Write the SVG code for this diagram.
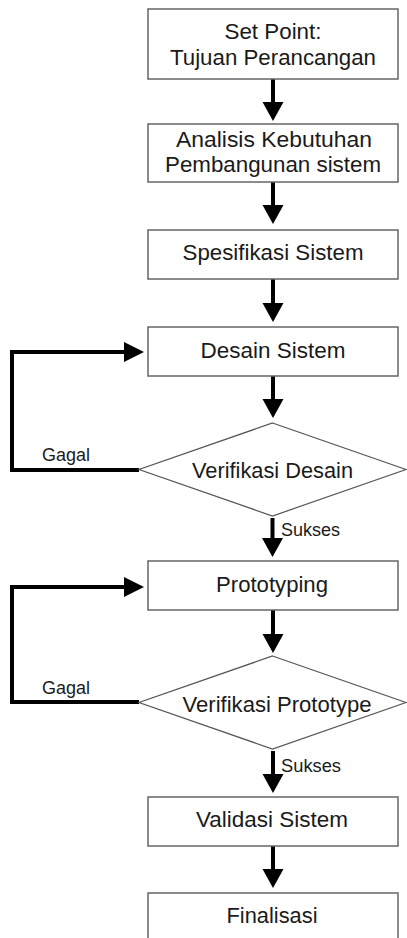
<svg xmlns="http://www.w3.org/2000/svg" width="407" height="938" viewBox="0 0 407 938">
<style>
.box{fill:#fff;stroke:#666;stroke-width:1.5}
.dia{fill:#fff;stroke:#555;stroke-width:1.2}
.t{font-family:"Liberation Sans",Arial,sans-serif;font-size:21.5px;fill:#1a1a1a;text-anchor:middle}
.s{font-family:"Liberation Sans",Arial,sans-serif;font-size:17.5px;fill:#1a1a1a}
.ln{fill:none;stroke:#000;stroke-width:4}
.hd{fill:#000}
</style>
<rect width="407" height="938" fill="#fff"/>
<g id="connectors">
<path class="ln" d="M273,79V104"/><polygon class="hd" points="262.5,102 283.5,102 273,121"/>
<path class="ln" d="M273,182V207"/><polygon class="hd" points="262.5,205 283.5,205 273,224"/>
<path class="ln" d="M273,279V305"/><polygon class="hd" points="262.5,303 283.5,303 273,322"/>
<path class="ln" d="M273,376V401"/><polygon class="hd" points="262.5,399 283.5,399 273,418"/>
<path class="ln" d="M272.5,518V540"/><polygon class="hd" points="262,538 283,538 272.5,557"/>
<path class="ln" d="M273,610V636"/><polygon class="hd" points="262.5,634 283.5,634 273,653"/>
<path class="ln" d="M273,751V776"/><polygon class="hd" points="262.5,774 283.5,774 273,793"/>
<path class="ln" d="M273,846V871"/><polygon class="hd" points="262.5,869 283.5,869 273,888"/>
<path class="ln" d="M139,470H12V352H127"/><polygon class="hd" points="124,342 124,362 144,352"/>
<path class="ln" d="M139,702H12V587H127"/><polygon class="hd" points="124,577 124,597 144,587"/>
<text class="s" x="42" y="461" textLength="48" lengthAdjust="spacingAndGlyphs">Gagal</text>
<text class="s" x="42" y="694" textLength="48" lengthAdjust="spacingAndGlyphs">Gagal</text>
<text class="s" x="281" y="536" textLength="59" lengthAdjust="spacingAndGlyphs">Sukses</text>
<text class="s" x="281" y="772" textLength="60" lengthAdjust="spacingAndGlyphs">Sukses</text>
</g>
<g id="n1"><rect class="box" x="148" y="9" width="250" height="70"/>
<text class="t" x="273" y="39" textLength="97" lengthAdjust="spacingAndGlyphs">Set Point:</text>
<text class="t" x="273" y="65" textLength="206" lengthAdjust="spacingAndGlyphs">Tujuan Perancangan</text></g>
<g id="n2"><rect class="box" x="148" y="124" width="250" height="58"/>
<text class="t" x="274" y="147" textLength="196" lengthAdjust="spacingAndGlyphs">Analisis Kebutuhan</text>
<text class="t" x="273" y="172" textLength="216" lengthAdjust="spacingAndGlyphs">Pembangunan sistem</text></g>
<g id="n3"><rect class="box" x="148" y="230" width="250" height="49"/>
<text class="t" x="273" y="260" textLength="181" lengthAdjust="spacingAndGlyphs">Spesifikasi Sistem</text></g>
<g id="n4"><rect class="box" x="148" y="327" width="250" height="49"/>
<text class="t" x="273" y="358" textLength="145" lengthAdjust="spacingAndGlyphs">Desain Sistem</text></g>
<g id="n5"><polygon class="dia" points="272.5,423 406,469.5 272.5,516 139,469.5"/>
<text class="t" x="272.5" y="478" textLength="161" lengthAdjust="spacingAndGlyphs">Verifikasi Desain</text></g>
<g id="n6"><rect class="box" x="148" y="561" width="250" height="49"/>
<text class="t" x="272" y="592" textLength="112" lengthAdjust="spacingAndGlyphs">Prototyping</text></g>
<g id="n7"><polygon class="dia" points="272.5,656 406,702.5 272.5,749 139,702.5"/>
<text class="t" x="277" y="712" textLength="189" lengthAdjust="spacingAndGlyphs">Verifikasi Prototype</text></g>
<g id="n8"><rect class="box" x="148" y="797" width="250" height="49"/>
<text class="t" x="272" y="827" textLength="152" lengthAdjust="spacingAndGlyphs">Validasi Sistem</text></g>
<g id="n9"><rect class="box" x="148" y="893" width="250" height="50"/>
<text class="t" x="272" y="923" textLength="91" lengthAdjust="spacingAndGlyphs">Finalisasi</text></g>
</svg>
